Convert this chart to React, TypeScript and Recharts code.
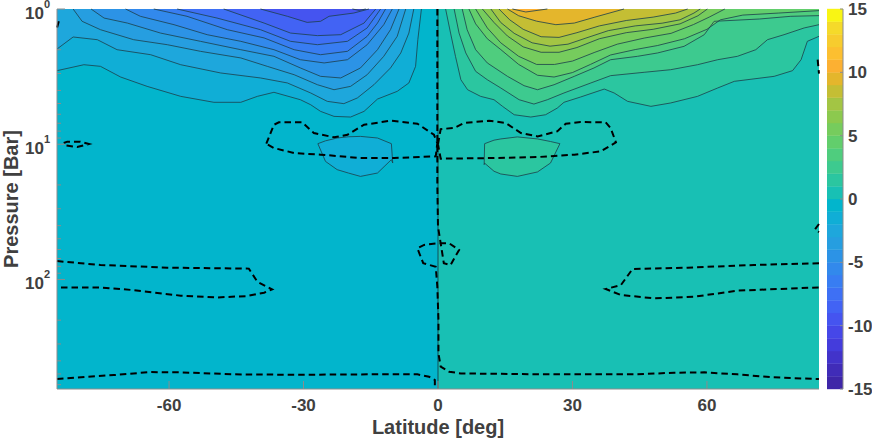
import { Area, ComposedChart, Line, XAxis, YAxis } from "recharts";

// colours per 1 m/s band, from -15 up to 15
const COLORBAR = [
  "#3e26a8", "#402cb8", "#4233ca", "#443cdc", "#4647e8", "#4554f0", "#4263f4", "#3e70f5",
  "#387df2", "#3289ec", "#2c93e6", "#269ee0", "#1ea7dc", "#10aed6", "#02b5cc", "#18c0b4",
  "#2bc6a0", "#3dca8f", "#4fcd7e", "#62ce6c", "#76cc5d", "#8cc94e", "#a3c544", "#c4be34",
  "#e4b62c", "#fcb032", "#fcbf30", "#f7cc2e", "#f5da2a", "#f9f514",
];

const LAT_TICKS = [-60, -30, 0, 30, 60];
const BAR_TICKS = [-15, -10, -5, 0, 5, 10, 15];
const PRESSURE_TICKS = [
  1, 2, 3, 4, 5, 6, 7, 8, 9, 10, 20, 30, 40, 50, 60, 70, 80, 90, 100, 200, 300, 400, 500, 600,
];

// contours as [latitude, log10 pressure], southern hemisphere from -1 to -10
const SOUTH = [
  [[-85, 0.456], [-79, 0.412], [-75.3, 0.424], [-70.8, 0.503], [-64.9, 0.572], [-57.4, 0.646], [-50, 0.69], [-44, 0.69], [-40.3, 0.646], [-36.6, 0.616], [-30.7, 0.671], [-28.4, 0.708], [-26.2, 0.757], [-23.2, 0.794], [-19.5, 0.799], [-16.5, 0.757], [-13.5, 0.666], [-9.1, 0.609], [-6.5, 0.547], [-5, 0.424], [-4.5, 0.227], [-3.7, 0]],
  [[-85, 0.296], [-81.4, 0.207], [-76, 0.227], [-71.6, 0.301], [-64.1, 0.338], [-57.4, 0.412], [-48.5, 0.473], [-39.6, 0.51], [-33.6, 0.547], [-28.4, 0.621], [-24.7, 0.683], [-21, 0.7], [-18, 0.658], [-14.3, 0.56], [-10.6, 0.436], [-8.3, 0.325], [-6.5, 0.178], [-5.4, 0]],
  [[-81.4, 0], [-79.4, 0.091], [-75.3, 0.153], [-67.9, 0.227], [-60.4, 0.264], [-53, 0.313], [-44, 0.362], [-38.1, 0.424], [-32.1, 0.486], [-26.9, 0.56], [-23.2, 0.597], [-19.5, 0.572], [-15.8, 0.486], [-12.1, 0.35], [-9.1, 0.202], [-7.2, 0]],
  [[-77.4, 0], [-74.5, 0.067], [-69.3, 0.104], [-61.9, 0.178], [-53, 0.239], [-44, 0.301], [-36.6, 0.35], [-30.7, 0.436], [-26.2, 0.498], [-21.7, 0.51], [-17.3, 0.436], [-13.5, 0.301], [-10.6, 0.153], [-8.7, 0]],
  [[-69.7, 0], [-66.4, 0.054], [-58.9, 0.116], [-51.5, 0.19], [-44, 0.239], [-36.6, 0.301], [-30.7, 0.375], [-25.4, 0.399], [-20.2, 0.375], [-15.8, 0.264], [-12.1, 0.116], [-10.2, 0]],
  [[-63.4, 0], [-56, 0.054], [-47, 0.153], [-38.8, 0.214], [-32.1, 0.301], [-26.2, 0.338], [-20.2, 0.313], [-15.8, 0.202], [-13.5, 0.104], [-11.7, 0]],
  [[-58.2, 0], [-49.3, 0.067], [-39.6, 0.153], [-32.9, 0.239], [-26.9, 0.264], [-20.2, 0.239], [-15.8, 0.14], [-12.8, 0]],
  [[-47.8, 0], [-38.8, 0.104], [-32.9, 0.178], [-26.9, 0.197], [-21.7, 0.19], [-16.5, 0.104], [-13.9, 0]],
  [[-39.6, 0], [-33.6, 0.054], [-29.2, 0.099], [-26.2, 0.091], [-24.3, 0.054], [-18.8, 0.03], [-15.4, 0]],
  [[-19.1, 0], [-17.6, 0.01], [-16.1, 0]],
];

// northern hemisphere, 1 to 10
const NORTH = [
  [[1.7, 0], [2.8, 0.178], [3.9, 0.35], [5.1, 0.523], [6.6, 0.597], [9.5, 0.646], [12.5, 0.671], [14.4, 0.72], [17, 0.782], [20.7, 0.799], [24, 0.782], [26.6, 0.733], [28.1, 0.69], [31.8, 0.651], [37.1, 0.592], [39.3, 0.621], [42.3, 0.683], [47.5, 0.72], [51.9, 0.695], [57.9, 0.646], [62.4, 0.584], [66.1, 0.535], [75, 0.498], [79.1, 0.456], [81, 0.375], [82.4, 0.239], [85, 0.202]],
  [[3.6, 0], [4.7, 0.178], [6.2, 0.325], [8.4, 0.461], [11, 0.523], [14, 0.584], [18.1, 0.671], [21.4, 0.703], [24.4, 0.671], [28.1, 0.621], [34.1, 0.547], [38.5, 0.493], [46, 0.468], [51.9, 0.449], [57.9, 0.412], [62.4, 0.375], [66.8, 0.35], [70.9, 0.301], [73.5, 0.227], [77.2, 0.19], [81.7, 0.14], [85, 0.116]],
  [[5.4, 0], [6.5, 0.153], [8.4, 0.301], [11, 0.399], [15.5, 0.498], [19.2, 0.567], [22.2, 0.597], [25.9, 0.56], [30.4, 0.498], [34.8, 0.436], [38.5, 0.375], [44.5, 0.35], [49, 0.325], [54.9, 0.276], [59.4, 0.19], [61.6, 0.091], [71.7, 0.074], [78.7, 0.054], [85, 0.049]],
  [[6.9, 0], [8.4, 0.11], [11, 0.22], [14, 0.3], [18, 0.41], [22.2, 0.49], [25.9, 0.503], [30, 0.47], [34, 0.41], [38.5, 0.34], [44, 0.3], [49, 0.27], [55, 0.22], [60, 0.15], [63, 0.08], [68, 0.045], [76, 0.03], [85, 0.012]],
  [[8.4, 0], [11, 0.14], [14, 0.25], [18, 0.35], [22, 0.41], [26, 0.41], [30, 0.385], [35, 0.32], [40, 0.26], [46, 0.215], [52, 0.18], [57, 0.115], [60.5, 0.06], [64, 0]],
  [[9.9, 0], [12.5, 0.1], [15.5, 0.2], [19, 0.28], [23, 0.32], [27, 0.32], [31, 0.285], [36, 0.22], [42, 0.175], [48, 0.15], [54, 0.11], [58, 0.05], [60.1, 0]],
  [[11.8, 0], [14, 0.1], [17, 0.18], [21, 0.25], [25, 0.275], [29, 0.26], [33, 0.215], [38, 0.16], [44, 0.125], [50, 0.105], [54, 0.08], [57.1, 0.03], [58.5, 0]],
  [[13.6, 0], [16, 0.08], [19, 0.15], [23, 0.205], [27, 0.21], [31, 0.175], [36, 0.125], [42, 0.085], [48, 0.06], [53, 0.03], [55.7, 0]],
  [[15.5, 0], [18, 0.05], [22, 0.09], [26.3, 0.116], [30.4, 0.104], [35, 0.06], [41.5, 0]],
  [[16.6, 0], [19.6, 0.022], [24.4, 0]],
];

// closed cells near 10 bar: [latitude, upper log10 p, lower log10 p]
const CELL_SOUTH = [[-26.8, 0.996, 0.996], [-25.1, 0.975, 1.127], [-22.5, 0.954, 1.188], [-20, 0.945, 1.213], [-17.3, 0.942, 1.238], [-13.5, 0.954, 1.213], [-10.4, 0.996, 1.114], [-10.1, 1.139, 1.139]];
const CELL_NORTH = [[10.3, 1.151, 1.151], [10.4, 0.996, 1.14], [12.5, 0.97, 1.2], [14, 0.961, 1.22], [17.7, 0.946, 1.238], [22.2, 0.961, 1.205], [25.1, 0.98, 1.139], [27.2, 0.996, 0.996]];

// zero contours (dashed)
const ZERO = [
  [[-0.15, 0], [-0.15, 0.98], [-0.15, 1.3], [0, 1.61], [0.6, 1.733], [1.3, 1.88], [2.8, 1.893], [4.7, 1.782], [2.5, 1.733], [-0.15, 1.733], [-3.1, 1.745], [-4.6, 1.77], [-3.3, 1.88], [-0.5, 1.906], [-0.15, 2.054], [0.1, 2.3], [0.1, 2.547], [0.6, 2.645], [2.5, 2.683], [5.1, 2.695], [18.5, 2.7], [29.6, 2.702], [43.8, 2.702], [52.7, 2.69], [59.4, 2.687], [66.8, 2.702], [74.3, 2.723], [85, 2.737]],
  [[-85, 2.737], [-78.3, 2.72], [-72.3, 2.707], [-64.1, 2.685], [-57.4, 2.687], [-45.5, 2.702], [-30.7, 2.705], [-15.8, 2.702], [-4.6, 2.702], [-2, 2.72], [-0.7, 2.744], [-0.7, 2.806]],
  [[-38.3, 0.996], [-36.6, 0.856], [-35.5, 0.838], [-30.3, 0.838], [-27.7, 0.917], [-23.2, 0.949], [-20.2, 0.93], [-16.5, 0.856], [-10.6, 0.826], [-4.6, 0.848], [-0.9, 0.93], [-0.15, 0.991], [-0.5, 1.09], [-9.8, 1.102], [-17.3, 1.102], [-26.2, 1.077], [-32.1, 1.065], [-36.6, 1.028], [-38.3, 0.996]],
  [[0, 1.0], [0.6, 0.888], [3.6, 0.88], [5.8, 0.843], [11.4, 0.826], [15.1, 0.843], [18.5, 0.917], [22.2, 0.942], [26.6, 0.905], [28.5, 0.848], [31.8, 0.836], [37.4, 0.838], [38.5, 0.88], [39.7, 0.986], [36.3, 1.053], [30.4, 1.077], [22.2, 1.095], [12.5, 1.102], [0.6, 1.107], [0, 1.0]],
  [[-83.5, 0.991], [-82.7, 0.981], [-79.8, 0.981], [-77.9, 0.998], [-80.5, 1.021], [-83.1, 1.008], [-83.5, 0.991]],
  [[-84.6, 0.091], [-85, 0.14]],
  [[84.7, 0.375], [85, 0.478]],
  [[85, 1.59], [84.1, 1.63], [85, 1.65]],
  [[-85, 1.864], [-75.3, 1.893], [-60.4, 1.913], [-42.2, 1.92], [-40.3, 2.017], [-37, 2.074], [-38.8, 2.098], [-42.6, 2.123], [-49.3, 2.133], [-57.4, 2.12], [-67.9, 2.079], [-75.3, 2.06], [-85, 2.059]],
  [[85, 1.88], [70.5, 1.893], [55.7, 1.913], [43.4, 1.923], [40.8, 2.042], [37.4, 2.071], [40.8, 2.115], [48.2, 2.14], [57.1, 2.128], [66.8, 2.083], [85, 2.059]],
];

const P_MAX = 646;
const FONT = "'Liberation Sans', Arial, sans-serif";
const INK = "#404040";
const FRAME = "#8c8c8c";

const toRows = (points: number[][]) =>
  points.map(([lat, e]) => ({ lat, p: 10 ** e, range: [1, 10 ** e] }));
const cellRows = (cell: number[][]) =>
  cell.map(([lat, a, b]) => ({ lat, range: [10 ** a, 10 ** b] }));
const cellOutline = (cell: number[][]) => {
  const top = cell.map(([lat, a]) => ({ lat, p: 10 ** a }));
  const bottom = [...cell].reverse().map(([lat, , b]) => ({ lat, p: 10 ** b }));
  return [...top, ...bottom];
};

const colorFor = (value: number) => COLORBAR[value + 15];

function LatTick({ x, y, payload }: any) {
  return (
    <g>
      <line x1={x} x2={x} y1={y} y2={y - 8} stroke={FRAME} />
      <text x={x} y={y + 22} textAnchor="middle" fontFamily={FONT} fontWeight="bold" fontSize={17} fill={INK}>
        {payload.value}
      </text>
    </g>
  );
}

function TopTick({ x, y }: any) {
  return <line x1={x} x2={x} y1={y} y2={y + 8} stroke={FRAME} />;
}

function PressureTick({ x, y, payload }: any) {
  const e = Math.log10(payload.value);
  const major = Number.isInteger(e);
  return (
    <g>
      <line x1={x} x2={x + (major ? 8 : 4)} y1={y} y2={y} stroke={FRAME} />
      {major && (
        <text x={x - 7} y={y + 10} textAnchor="end" fontFamily={FONT} fontWeight="bold" fontSize={17} fill={INK}>
          10
          <tspan dy={-11} fontSize={11}>{e}</tspan>
        </text>
      )}
    </g>
  );
}

function RightTick({ x, y, payload }: any) {
  const major = Number.isInteger(Math.log10(payload.value));
  return <line x1={x} x2={x - (major ? 8 : 4)} y1={y} y2={y} stroke={FRAME} />;
}

function BarTick({ x, y, payload }: any) {
  return (
    <g>
      <line x1={x} x2={x - 3} y1={y} y2={y} stroke={FRAME} />
      <text x={x + 5} y={y + 6} fontFamily={FONT} fontWeight="bold" fontSize={17} fill={INK}>
        {payload.value}
      </text>
    </g>
  );
}

export default function App() {
  const labelStyle = { fontFamily: FONT, fontWeight: "bold", fontSize: 20, fill: INK };
  return (
    <div style={{ position: "absolute", left: 0, top: 0, width: 872, height: 440 }}>
      <ComposedChart
        width={872}
        height={440}
        margin={{ top: 9, right: 53, bottom: 0, left: 0 }}
        style={{ position: "absolute", left: 0, top: 0 }}
      >
        <XAxis
          xAxisId="bottom"
          dataKey="lat"
          type="number"
          domain={[-85, 85]}
          ticks={LAT_TICKS}
          interval={0}
          height={51}
          tickSize={0}
          tickMargin={0}
          tickLine={false}
          stroke={FRAME}
          tick={<LatTick />}
          label={{ value: "Latitude [deg]", position: "insideBottom", offset: 6, style: labelStyle }}
        />
        <XAxis
          xAxisId="top"
          orientation="top"
          dataKey="lat"
          type="number"
          domain={[-85, 85]}
          ticks={LAT_TICKS}
          interval={0}
          height={0}
          tickSize={0}
          tickMargin={0}
          tickLine={false}
          stroke={FRAME}
          tick={<TopTick />}
        />
        <YAxis
          yAxisId="left"
          type="number"
          scale="log"
          domain={[1, P_MAX]}
          reversed
          ticks={PRESSURE_TICKS}
          interval={0}
          width={57}
          tickSize={0}
          tickMargin={0}
          tickLine={false}
          stroke={FRAME}
          tick={<PressureTick />}
          label={{ value: "Pressure [Bar]", angle: -90, position: "insideLeft", offset: 11, style: { ...labelStyle, textAnchor: "middle" } }}
        />
        <YAxis
          yAxisId="right"
          orientation="right"
          type="number"
          scale="log"
          domain={[1, P_MAX]}
          reversed
          ticks={PRESSURE_TICKS}
          interval={0}
          width={0}
          tickSize={0}
          tickMargin={0}
          tickLine={false}
          stroke={FRAME}
          tick={<RightTick />}
        />

        <Area
          xAxisId="bottom"
          yAxisId="left"
          data={[{ lat: -85, range: [1, P_MAX] }, { lat: 0, range: [1, P_MAX] }]}
          dataKey="range"
          type="linear"
          fill={colorFor(-1)}
          fillOpacity={1}
          stroke="none"
          dot={false}
          activeDot={false}
          isAnimationActive={false}
        />
        <Area
          xAxisId="bottom"
          yAxisId="left"
          data={[{ lat: 0, range: [1, P_MAX] }, { lat: 85, range: [1, P_MAX] }]}
          dataKey="range"
          type="linear"
          fill={colorFor(0)}
          fillOpacity={1}
          stroke="none"
          dot={false}
          activeDot={false}
          isAnimationActive={false}
        />
        {SOUTH.map((c, i) => (
          <Area
            key={`sf${i}`}
            xAxisId="bottom"
            yAxisId="left"
            data={toRows(c)}
            dataKey="range"
            type="linear"
            fill={colorFor(-2 - i)}
            fillOpacity={1}
            stroke="none"
            dot={false}
            activeDot={false}
            isAnimationActive={false}
          />
        ))}
        {NORTH.map((c, i) => (
          <Area
            key={`nf${i}`}
            xAxisId="bottom"
            yAxisId="left"
            data={toRows(c)}
            dataKey="range"
            type="linear"
            fill={colorFor(1 + i)}
            fillOpacity={1}
            stroke="none"
            dot={false}
            activeDot={false}
            isAnimationActive={false}
          />
        ))}
        <Area
          xAxisId="bottom"
          yAxisId="left"
          data={cellRows(CELL_SOUTH)}
          dataKey="range"
          type="linear"
          fill={colorFor(-2)}
          fillOpacity={1}
          stroke="none"
          dot={false}
          activeDot={false}
          isAnimationActive={false}
        />
        <Area
          xAxisId="bottom"
          yAxisId="left"
          data={cellRows(CELL_NORTH)}
          dataKey="range"
          type="linear"
          fill={colorFor(1)}
          fillOpacity={1}
          stroke="none"
          dot={false}
          activeDot={false}
          isAnimationActive={false}
        />

        {[...SOUTH, ...NORTH].map((c, i) => (
          <Line
            key={`c${i}`}
            xAxisId="bottom"
            yAxisId="left"
            data={toRows(c)}
            dataKey="p"
            type="linear"
            stroke="#1c3f4a"
            strokeWidth={0.8}
            dot={false}
            activeDot={false}
            isAnimationActive={false}
          />
        ))}
        {[CELL_SOUTH, CELL_NORTH].map((c, i) => (
          <Line
            key={`cell${i}`}
            xAxisId="bottom"
            yAxisId="left"
            data={cellOutline(c)}
            dataKey="p"
            type="linear"
            stroke="#1c3f4a"
            strokeWidth={0.8}
            dot={false}
            activeDot={false}
            isAnimationActive={false}
          />
        ))}
        {/* equator line, bound to the box axes so they get ticks too */}
        <Line
          xAxisId="top"
          yAxisId="right"
          data={[{ lat: 0, p: 1 }, { lat: 0, p: P_MAX }]}
          dataKey="p"
          type="linear"
          stroke="#12333a"
          strokeWidth={0.8}
          dot={false}
          activeDot={false}
          isAnimationActive={false}
        />
        {ZERO.map((c, i) => (
          <Line
            key={`z${i}`}
            xAxisId="bottom"
            yAxisId="left"
            data={toRows(c)}
            dataKey="p"
            type="linear"
            stroke="#000000"
            strokeWidth={2}
            strokeDasharray="6.5 4"
            dot={false}
            activeDot={false}
            isAnimationActive={false}
          />
        ))}
      </ComposedChart>

      <ComposedChart
        width={45}
        height={440}
        margin={{ top: 9, right: 0, bottom: 51, left: 0 }}
        style={{ position: "absolute", left: 827, top: 0 }}
      >
        <XAxis hide type="number" dataKey="x" domain={[0, 1]} />
        <YAxis
          orientation="right"
          type="number"
          domain={[-15, 15]}
          ticks={BAR_TICKS}
          interval={0}
          width={29}
          tickSize={0}
          tickMargin={0}
          tickLine={false}
          stroke={FRAME}
          tick={<BarTick />}
        />
        {COLORBAR.map((color, i) => (
          <Area
            key={color}
            data={[{ x: 0, range: [i - 15, i - 14] }, { x: 1, range: [i - 15, i - 14] }]}
            dataKey="range"
            type="linear"
            fill={color}
            fillOpacity={1}
            stroke={color}
            strokeWidth={0.4}
            dot={false}
            activeDot={false}
            isAnimationActive={false}
          />
        ))}
      </ComposedChart>
    </div>
  );
}
